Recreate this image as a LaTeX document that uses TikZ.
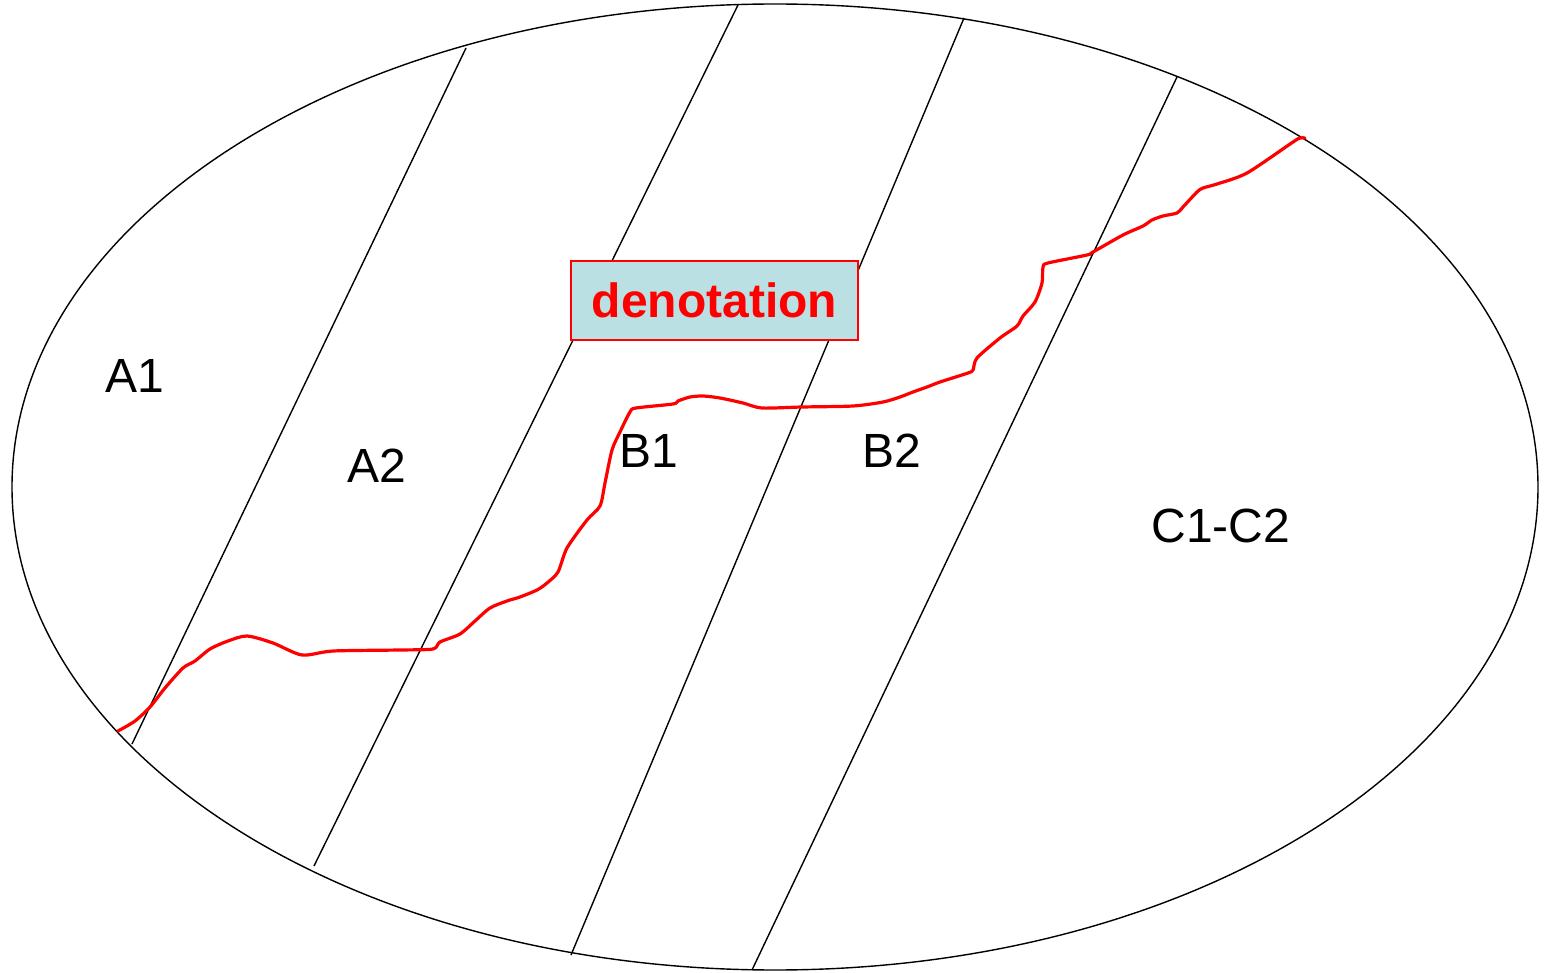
\documentclass[tikz,border=0pt]{standalone}
\usepackage{fontspec}
\setmainfont{Liberation Sans}
\definecolor{boxfill}{HTML}{BBE0E3}
\begin{document}
\begin{tikzpicture}[x=0.5pt,y=-0.5pt,
  region/.style={line width=0.7pt,black},
  lbl/.style={anchor=base,inner sep=0pt,font=\fontsize{24}{28}\selectfont},
  boundary/.style={line width=0.7pt,black},
  path/.style={red,line width=1.6pt,line join=round,line cap=round},
  tagbox/.style={draw=red,line width=1pt,fill=boxfill,minimum width=143.5pt,minimum height=39.5pt,inner sep=0pt,text=red,font=\fontsize{24}{28}\selectfont\bfseries}]
\useasboundingbox (0,0) rectangle (1544,973);
\draw[boundary] (775,487) ellipse [x radius=763, y radius=483];
\coordinate (l1t) at (466,48);  \coordinate (l1b) at (132,744);
\coordinate (l2t) at (738,5);   \coordinate (l2b) at (314,866);
\coordinate (l3t) at (964,18);  \coordinate (l3b) at (571,955);
\coordinate (l4t) at (1177,77); \coordinate (l4b) at (752,970);
\draw[region] (l1t) -- (l1b);
\draw[region] (l2t) -- (l2b);
\draw[region] (l3t) -- (l3b);
\draw[region] (l4t) -- (l4b);
\node[lbl] (a1) at (135,393) {A1};
\node[lbl] (a2) at (377,483) {A2};
\node[lbl] (b1) at (649,468) {B1};
\node[lbl] (b2) at (892,468) {B2};
\node[lbl] (c) at (1221,543) {C1-C2};
\draw[path] plot[smooth,tension=0.45] coordinates {
(118,731) (135,721) (150,707) (165,688) (183,668) (195,661) (210,649) (228,641) (247,636) (273,643) (302,655) (333,651) (400,650) (433,649) (440,642) (460,634) (475,621) (490,608) (507,601) (520,597) (537,590) (547,583) (558,572) (567,548) (587,520) (600,506) (605,483) (612,450) (620,432) (630,412) (636,408) (673,404) (678,401) (690,397) (703,396) (720,398) (743,403) (762,408) (802,407) (853,406) (883,402) (900,397) (913,392) (927,387) (940,382) (968,373) (973,370) (977,358) (1000,338) (1017,326) (1023,316) (1035,302) (1042,283) (1043,267) (1048,263) (1087,255) (1093,252) (1123,235) (1143,226) (1152,220) (1163,216) (1177,213) (1183,207) (1197,192) (1203,188) (1217,184) (1247,173) (1293,142) (1300,138) (1305,138)};
\node[tagbox] (den) at (714.5,300.5) {denotation};
\end{tikzpicture}
\end{document}
